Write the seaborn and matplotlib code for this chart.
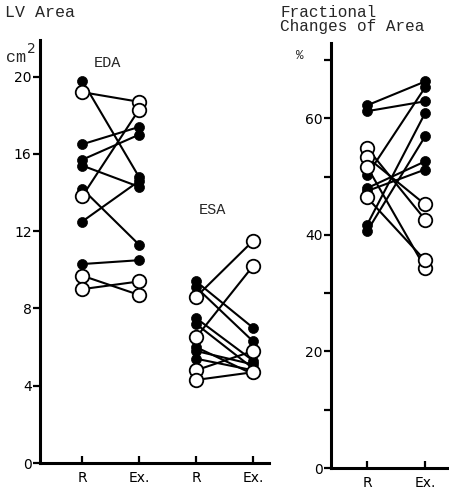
import matplotlib
matplotlib.use('Agg')
import matplotlib.pyplot as plt
import seaborn as sns
import pandas as pd

# values (R = rest, Ex. = exercise); one entry per subject
kinds = ['filled'] * 7 + ['open'] * 4
eda_r = [19.8, 16.5, 15.7, 15.4, 14.2, 12.5, 10.3, 19.2, 13.8, 9.7, 9.0]
eda_ex = [14.8, 17.4, 17.0, 14.3, 11.3, 14.6, 10.5, 18.7, 18.3, 8.7, 9.4]
esa_r = [9.4, 9.1, 7.5, 7.2, 6.0, 5.8, 5.4, 8.6, 6.5, 4.8, 4.3]
esa_ex = [7.0, 6.3, 5.3, 4.9, 4.6, 5.1, 4.8, 11.5, 10.2, 5.8, 4.7]
frac_r = [62.2, 61.2, 50.2, 48.0, 47.5, 41.7, 40.6, 54.9, 53.3, 51.7, 46.4]
frac_ex = [66.3, 62.9, 65.3, 52.6, 51.2, 60.9, 56.9, 42.6, 45.2, 34.3, 35.6]

area_ticks = [0, 4, 8, 12, 16, 20]
frac_ticks = [0, 10, 20, 30, 40, 50, 60, 70]
frac_ticklabels = ['0', '', '20', '', '40', '', '60', '']


def long_table(name, r, ex, first_pos):
    rows = []
    for i, (a, b, k) in enumerate(zip(r, ex, kinds)):
        rows.append({'subject': f'{name}{i}', 'kind': k, 'pos': first_pos, 'value': a})
        rows.append({'subject': f'{name}{i}', 'kind': k, 'pos': first_pos + 1, 'value': b})
    return pd.DataFrame(rows)


def draw(ax, df):
    sns.lineplot(data=df, x='pos', y='value', units='subject', estimator=None,
                 sort=False, color='black', lw=1.5, ax=ax, legend=False)
    sns.scatterplot(data=df[df.kind == 'filled'], x='pos', y='value', color='black',
                    edgecolor='black', s=52, linewidth=0.5, zorder=3, ax=ax, legend=False)
    sns.scatterplot(data=df[df.kind == 'open'], x='pos', y='value', color='white',
                    edgecolor='black', s=95, linewidth=1.3, zorder=4, ax=ax, legend=False)


sns.set_style('ticks')
plt.rcParams['font.family'] = ['DejaVu Sans']
mono = 'Liberation Mono'

area = pd.concat([long_table('eda', eda_r, eda_ex, 0),
                  long_table('esa', esa_r, esa_ex, 2)], ignore_index=True)
frac = long_table('fr', frac_r, frac_ex, 0)

W, H = 449, 490
fig = plt.figure(figsize=(W / 100, H / 100), dpi=100)
ax1 = fig.add_axes([40 / W, (H - 463) / H, (269 - 40) / W, (463 - 40) / H])
ax2 = fig.add_axes([331 / W, (H - 468) / H, (449 - 331) / W, (468 - 43) / H])

draw(ax1, area)
draw(ax2, frac)

ax1.set_xlim(-0.74, 3.28)
ax1.set_ylim(0, 21.9)
ax1.set_xticks([0, 1, 2, 3])
ax1.set_xticklabels(['R', 'Ex.', 'R', 'Ex.'])
ax1.set_yticks(area_ticks)

ax2.set_xlim(-0.62, 1.41)
ax2.set_ylim(0, 72.9)
ax2.set_xticks([0, 1])
ax2.set_xticklabels(['R', 'Ex.'])
ax2.set_yticks(frac_ticks)
ax2.set_yticklabels(frac_ticklabels)

for ax in (ax1, ax2):
    ax.set_xlabel('')
    ax.set_ylabel('')
    ax.patch.set_alpha(0)
    for side in ('top', 'right'):
        ax.spines[side].set_visible(False)
    for side in ('left', 'bottom'):
        ax.spines[side].set_linewidth(2.2)
        ax.spines[side].set_color('black')
    ax.tick_params(axis='y', direction='out', length=5, width=1.6, pad=1,
                   labelsize=10, colors='black')
    ax.tick_params(axis='x', direction='in', length=5, width=1.6, pad=6,
                   labelsize=10, colors='black')

ax1.text(0.44, 20.7, 'EDA', family=mono, fontsize=11, ha='center', va='center')
ax1.text(2.28, 13.1, 'ESA', family=mono, fontsize=11, ha='center', va='center')

fig.text(5 / W, 1 - 5 / H, 'LV Area', family=mono, fontsize=12, va='top', ha='left')
fig.text(6 / W, 1 - 57 / H, 'cm', family=mono, fontsize=12, va='center', ha='left')
fig.text(27 / W, 1 - 49 / H, '2', fontsize=10, va='center', ha='left')
fig.text(280 / W, 1 - 5 / H, 'Fractional\nChanges of Area', family=mono,
         fontsize=11.5, va='top', ha='left', linespacing=0.95)
fig.text(296 / W, 1 - 56 / H, '%', family=mono, fontsize=9, va='center', ha='left')

fig.savefig('out.png', dpi=100)
